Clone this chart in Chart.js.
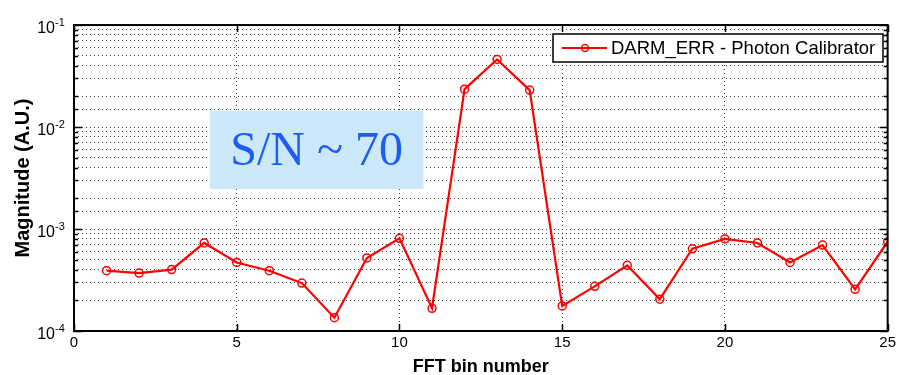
<!DOCTYPE html>
<html lang="en">
<head>
  <meta charset="UTF-8" />
  <title>DARM_ERR - Photon Calibrator</title>
  <style>
    body {
      margin: 0;
      padding: 0;
      background-color: #ffffff;
    }
    .chart-box {
      width: 899px;
      height: 375px;
      position: relative;
    }
  </style>
  <script src="https://cdn.jsdelivr.net/npm/chart.js"></script>
</head>
<body>
  <div class="chart-box">
    <canvas id="chartFft"></canvas>
  </div>

  <script>
    // data
    const bins = [1, 2, 3, 4, 5, 6, 7, 8, 9, 10, 11, 12, 13, 14, 15, 16, 17, 18, 19, 20, 21, 22, 23, 24, 25];
    const magnitude = [
      3.9e-4, 3.7e-4, 4.0e-4, 7.3e-4, 4.7e-4, 3.9e-4, 2.95e-4, 1.35e-4, 5.2e-4, 8.1e-4,
      1.67e-4, 2.35e-2, 4.6e-2, 2.3e-2, 1.76e-4, 2.74e-4, 4.4e-4, 2.05e-4, 6.4e-4, 8.0e-4,
      7.3e-4, 4.7e-4, 6.95e-4, 2.56e-4, 7.5e-4
    ];
    const seriesLabel = 'DARM_ERR - Photon Calibrator';
    const xTicks = [0, 5, 10, 15, 20, 25];
    const yExponents = [-4, -3, -2, -1];
    const noteText = 'S/N ~ 70';

    const red = '#ff0000';
    const gridColor = 'rgba(0,0,0,0.75)';

    // box, inward ticks, y labels with exponents, legend, S/N note
    const matlabLook = {
      id: 'matlabLook',
      afterDraw(chart) {
        const ctx = chart.ctx;
        const a = chart.chartArea;
        const xs = chart.scales.x;
        const ys = chart.scales.y;
        ctx.save();

        // inward tick marks
        ctx.strokeStyle = '#000';
        ctx.lineWidth = 1.5;
        ys.ticks.forEach(t => {
          const y = Math.round(ys.getPixelForValue(t.value)) + 0.5;
          const len = t.major ? 8 : 4;
          ctx.beginPath();
          ctx.moveTo(a.left, y); ctx.lineTo(a.left + len, y);
          ctx.moveTo(a.right, y); ctx.lineTo(a.right - len, y);
          ctx.stroke();
        });
        xTicks.forEach(v => {
          const x = Math.round(xs.getPixelForValue(v)) + 0.5;
          ctx.beginPath();
          ctx.moveTo(x, a.bottom); ctx.lineTo(x, a.bottom - 7);
          ctx.moveTo(x, a.top); ctx.lineTo(x, a.top + 7);
          ctx.stroke();
        });

        // frame
        ctx.lineWidth = 2;
        ctx.strokeRect(a.left, a.top, a.right - a.left, a.bottom - a.top);

        // y labels 10^n
        ctx.fillStyle = '#000';
        yExponents.forEach(e => {
          const y = ys.getPixelForValue(Math.pow(10, e));
          ctx.font = '16px "Liberation Sans", Arial, sans-serif';
          ctx.textAlign = 'right';
          ctx.textBaseline = 'alphabetic';
          ctx.fillText('10', a.left - 19, y + 8);
          ctx.font = '11px "Liberation Sans", Arial, sans-serif';
          ctx.textAlign = 'left';
          ctx.fillText(String(e), a.left - 19, y + 1);
        });

        // S/N note, placed in data coordinates
        const nx0 = xs.getPixelForValue(4.17), nx1 = xs.getPixelForValue(10.74);
        const ny0 = ys.getPixelForValue(1.44e-2), ny1 = ys.getPixelForValue(2.47e-3);
        ctx.fillStyle = '#cce9fb';
        ctx.fillRect(nx0, ny0, nx1 - nx0, ny1 - ny0);
        ctx.fillStyle = '#1f5cf2';
        ctx.font = '48px "Liberation Serif", "Times New Roman", serif';
        ctx.textAlign = 'center';
        ctx.textBaseline = 'middle';
        ctx.fillText(noteText, (nx0 + nx1) / 2, (ny0 + ny1) / 2 + 2);

        // legend
        const lx = 553, ly = 34, lw = 330, lh = 28;
        ctx.fillStyle = '#fff';
        ctx.fillRect(lx, ly, lw, lh);
        ctx.strokeStyle = '#000';
        ctx.lineWidth = 1.5;
        ctx.strokeRect(lx, ly, lw, lh);
        ctx.strokeStyle = red;
        ctx.lineWidth = 2;
        ctx.beginPath();
        ctx.moveTo(lx + 9, ly + lh / 2); ctx.lineTo(lx + 54, ly + lh / 2);
        ctx.stroke();
        ctx.lineWidth = 1.5;
        ctx.beginPath();
        ctx.arc(lx + 32, ly + lh / 2, 3.5, 0, Math.PI * 2);
        ctx.stroke();
        ctx.fillStyle = '#000';
        ctx.font = '18.5px "Liberation Sans", Arial, sans-serif';
        ctx.textAlign = 'left';
        ctx.textBaseline = 'middle';
        ctx.fillText(seriesLabel, lx + 58, ly + lh / 2 + 1);

        ctx.restore();
      }
    };

    window.addEventListener('DOMContentLoaded', () => {
      new Chart(document.getElementById('chartFft'), {
        type: 'line',
        data: {
          datasets: [{
            label: seriesLabel,
            data: bins.map((b, i) => ({ x: b, y: magnitude[i] })),
            borderColor: red,
            backgroundColor: 'transparent',
            borderWidth: 2.2,
            pointRadius: 4,
            pointBorderWidth: 1.5,
            pointBorderColor: red,
            pointBackgroundColor: 'transparent',
            tension: 0
          }]
        },
        options: {
          responsive: true,
          maintainAspectRatio: false,
          animation: false,
          layout: { padding: { left: 0, right: 10, top: 25, bottom: 0 } },
          plugins: {
            legend: { display: false },
            tooltip: { enabled: false }
          },
          scales: {
            x: {
              type: 'linear',
              min: 0,
              max: 25,
              afterBuildTicks: s => { s.ticks = xTicks.map(v => ({ value: v })); },
              ticks: {
                color: '#000',
                font: { family: '"Liberation Sans", Arial, sans-serif', size: 15 },
                padding: 3,
                maxRotation: 0
              },
              grid: {
                color: c => (c.tick.value === 0 || c.tick.value === 25) ? 'transparent' : gridColor,
                drawTicks: false,
                lineWidth: 1
              },
              border: { display: false, dash: [1, 3] },
              title: {
                display: true,
                text: 'FFT bin number',
                color: '#000',
                font: { family: '"Liberation Sans", Arial, sans-serif', size: 18, weight: 'bold' },
                padding: { top: 0, bottom: -3 }
              },
              afterFit: s => { s.height = 44; }
            },
            y: {
              type: 'logarithmic',
              min: 1e-4,
              max: 1e-1,
              ticks: {
                autoSkip: false,
                callback: () => ''
              },
              grid: {
                color: gridColor,
                drawTicks: false,
                lineWidth: 1
              },
              border: { display: false, dash: [1, 3] },
              title: {
                display: true,
                text: 'Magnitude (A.U.)',
                color: '#000',
                font: { family: '"Liberation Sans", Arial, sans-serif', size: 20, weight: 'bold' },
                padding: { top: 11, bottom: 0 }
              },
              afterFit: s => { s.width = 74; }
            }
          }
        },
        plugins: [matlabLook]
      });
    });
  </script>
</body>
</html>
